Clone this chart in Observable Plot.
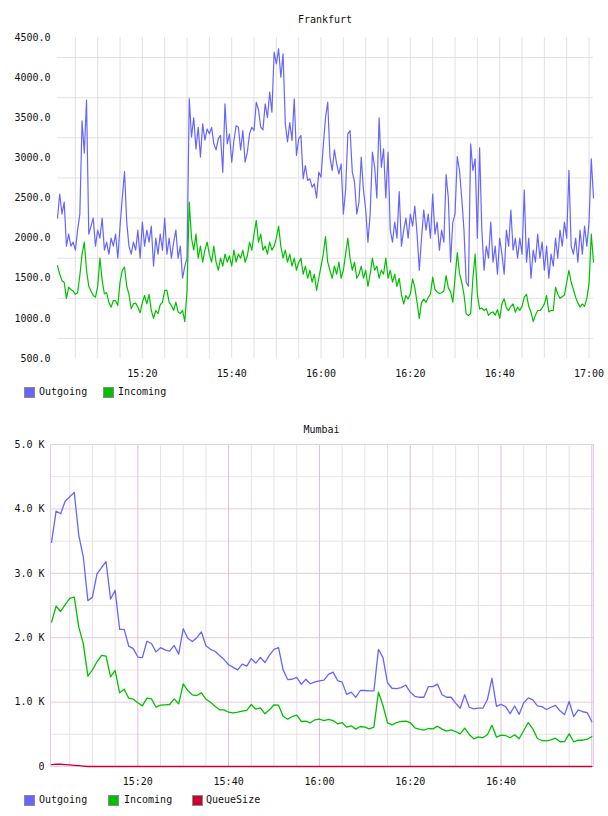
<!DOCTYPE html>
<html><head><meta charset="utf-8">
<script src="https://cdn.jsdelivr.net/npm/d3@7"></script>
<script src="https://cdn.jsdelivr.net/npm/@observablehq/plot@0.6"></script>
<style>
body{margin:0;background:#fff;font-family:"DejaVu Sans Mono",monospace;color:#111;}
#wrap{position:relative;width:608px;height:816px;overflow:hidden;}
#wrap svg{position:absolute;left:0;}
.title{position:absolute;font-size:10px;line-height:12px;text-align:center;}
.leg{position:absolute;font-size:10px;line-height:12px;white-space:nowrap;}
.sw{position:absolute;width:9px;height:9px;border:1px solid #8a8a8a;}
</style>
</head><body>
<div id="wrap"></div>
<script>
// ---------------- data ----------------
// Frankfurt: samples every 30 s starting 15:01
const fraStart = "15:01";
const fraStepSec = 30;
const fraOutgoing = [
2250,2550,2300,2450,1900,2050,1900,1950,1850,2100,
2300,3460,3060,3720,2050,2150,2250,1900,2100,2000,
2250,1850,1950,1800,2000,1900,2050,1750,2150,2500,
2830,2200,1900,1800,1950,1850,2100,1750,2200,1900,
2100,1950,2150,1650,2000,1800,2050,1850,2250,1800,
2000,1750,1950,2100,1750,1900,1500,1650,1750,3740,
3260,3500,3110,3380,3010,3425,3220,3360,3300,3380,
3175,3100,3240,3280,2820,3674,3175,3300,2946,3217,
3400,3382,3100,3341,2946,3071,3300,3382,3341,3694,
3600,3382,3350,3674,3500,3819,3570,4317,4172,4359,
4005,4296,3425,3200,3440,3217,3736,3030,3238,3279,
2739,2905,2718,2739,2635,2677,2500,2822,2760,3150,
3500,3694,3009,2843,3100,2926,2801,2926,2300,2600,
3300,3341,2822,2697,2300,2450,3009,2600,2350,1950,
2300,3071,2884,2500,3499,2884,3113,2500,3071,2100,
1950,2200,2000,2580,1900,2100,2250,2000,2300,2150,
2400,2050,1600,2000,2350,2100,2300,2000,2550,2050,
2200,1850,2100,1950,2793,2500,1700,2200,2300,3017,
2843,2500,2100,1450,1400,3175,2843,2988,2000,3125,
2100,1600,1900,1750,2200,1700,1900,1550,2000,1800,
1550,2100,1900,2350,1850,2000,1750,2000,1800,2600,
1700,2000,1500,1850,1700,2050,1750,1950,1600,1900,
1500,1800,1650,2000,1750,2100,1900,2200,2000,2843,
1900,1800,2000,1700,2100,1800,2150,1900,2200,2988,
2500];
const fraIncoming = [
1657,1550,1470,1450,1250,1390,1356,1340,1300,1320,
1534,1800,1950,1600,1400,1340,1285,1264,1400,1750,
1472,1306,1320,1200,1140,1223,1220,1160,1450,1597,
1640,1400,1300,1120,1180,1190,1140,1070,1200,1285,
1181,1300,1100,1000,1098,1060,1170,1200,1348,1350,
1200,1160,1100,1202,1080,1060,1100,960,1348,2450,
2000,1850,2050,1750,1900,1700,1850,1950,1800,1700,
1900,1700,1600,1750,1650,1800,1700,1780,1650,1850,
1700,1800,1750,1850,1700,1780,1950,1850,2050,2220,
1950,2050,1850,1900,1800,1950,1850,1900,2000,2150,
1900,1750,1850,1700,1800,1650,1750,1600,1700,1750,
1550,1650,1500,1600,1450,1550,1350,1500,1650,1800,
2020,1700,1600,1500,1650,1550,1700,1500,1600,1800,
2000,1750,1600,1700,1500,1550,1650,1500,1600,1400,
1550,1750,1600,1650,1500,1600,1550,1750,1500,1600,
1450,1550,1400,1500,1300,1181,1285,1244,1306,1493,
1380,1200,1000,1200,1240,1200,1260,1306,1513,1360,
1330,1310,1320,1340,1534,1380,1330,1202,1500,1820,
1560,1450,1300,1056,1036,1060,1500,1800,1300,1119,
1130,1098,1120,1036,1070,1080,1040,1110,1000,1181,
1244,1130,1098,1150,1180,1077,1140,1100,1150,1264,
1300,1150,1077,960,1040,1098,1098,1130,1181,1285,
1080,1098,1100,1389,1300,1250,1270,1290,1450,1597,
1450,1360,1264,1190,1140,1180,1150,1250,1431,2050,
1700];
const fraXTicks = ["15:20","15:40","16:00","16:20","16:40","17:00"];
const fraYTicks = [500,1000,1500,2000,2500,3000,3500,4000,4500];
const fraYGrid = [750,1250,1750,2250,2750,3250,3750,4250];

// Mumbai: samples every minute starting 15:01
const mumStart = "15:01";
const mumStepSec = 60;
const mumOutgoing = [
3480,3965,3925,4120,4190,4255,3590,3250,2575,2630,
2990,3090,3180,2600,2735,2130,2130,1870,1830,1700,
1690,1945,1910,1780,1845,1810,1790,1880,1745,2140,
1990,1940,2000,2090,1875,1820,1790,1725,1660,1580,
1540,1500,1590,1560,1675,1605,1695,1615,1730,1820,
1845,1500,1350,1355,1385,1275,1355,1285,1315,1330,
1340,1430,1465,1335,1310,1120,1155,1075,1180,1180,
1175,1175,1820,1690,1300,1215,1210,1225,1265,1155,
1090,1075,1075,1240,1240,1280,1115,1075,1075,985,
905,1115,920,895,905,905,1040,1370,935,965,
930,820,940,810,990,1065,1035,940,930,885,
920,950,865,805,1010,775,880,850,835,695];
const mumIncoming = [
2241,2489,2407,2515,2610,2630,2163,1905,1402,1501,
1626,1724,1713,1393,1491,1144,1200,1061,1045,989,
942,1061,1051,921,952,958,963,1051,973,1284,
1180,1113,1102,1144,1045,998,936,880,880,843,
833,843,859,870,963,890,911,818,880,958,
952,781,734,776,797,699,703,679,725,735,
714,730,714,663,683,611,632,580,621,611,
585,611,1154,947,678,647,683,699,704,683,
601,580,564,590,585,626,580,548,570,543,
507,595,497,430,461,446,492,642,455,486,
481,446,492,430,559,683,585,435,404,399,
415,440,384,388,507,384,408,408,424,466];
const mumQueueSize = [
30,35,35,30,25,18,12,6,0,0,
0,0,0,0,0,0,0,0,0,0,
0,0,0,0,0,0,0,0,0,0,
0,0,0,0,0,0,0,0,0,0,
0,0,0,0,0,0,0,0,0,0,
0,0,0,0,0,0,0,0,0,0,
0,0,0,0,0,0,0,0,0,0,
0,0,0,0,0,0,0,0,0,0,
0,0,0,0,0,0,0,0,0,0,
0,0,0,0,0,0,0,0,0,0,
0,0,0,0,0,0,0,0,0,0,
0,0,0,0,0,0,0,0,0,0];
const mumXTicks = ["15:20","15:40","16:00","16:20","16:40"];
const mumYTicks = [0,1000,2000,3000,4000,5000];
const mumYMajorGrid = [1000,2000,3000,4000];
const mumYMinorGrid = [500,1500,2500,3500,4500];

// ---------------- helpers ----------------
const T = s => new Date(`2020-01-01T${s.length === 5 ? s + ":00" : s}Z`);
const series = (start, step, vals) => vals.map((v, i) => ({t: new Date(+T(start) + i * step * 1000), v}));
const fmtHM = d3.utcFormat("%H:%M");
const COL = {out: "#6666ff", inc: "#00c000", q: "#cc0033"};
const font = {fontFamily: "DejaVu Sans Mono, monospace", fontSize: "10px", color: "#111", background: "transparent", overflow: "visible"};

const wrap = document.getElementById("wrap");

// ---------------- Frankfurt ----------------
const fraGridX = d3.utcMinute.every(5).range(T("15:05"), T("17:00:30"));
const fra = Plot.plot({
  width: 608, height: 385,
  marginTop: 37, marginBottom: 27, marginLeft: 57, marginRight: 15,
  style: font,
  x: {type: "utc", domain: [T("15:01"), T("17:01")], label: null},
  y: {domain: [500, 4500], label: null},
  marks: [
    Plot.ruleY(fraYGrid, {stroke: "#e2e2e2"}),
    Plot.ruleX(fraGridX, {stroke: "#e2e2e2"}),
    Plot.line(series(fraStart, fraStepSec, fraOutgoing), {x: "t", y: "v", stroke: COL.out, strokeWidth: 1.2}),
    Plot.line(series(fraStart, fraStepSec, fraIncoming), {x: "t", y: "v", stroke: COL.inc, strokeWidth: 1.2}),
    Plot.axisY(fraYTicks, {tickSize: 0, tickPadding: 7, tickFormat: d => d.toFixed(1), label: null}),
    Plot.axisX(fraXTicks.map(T), {tickSize: 0, tickPadding: 11, tickFormat: fmtHM, label: null})
  ]
});
fra.style.top = "0px";
wrap.appendChild(fra);

// ---------------- Mumbai ----------------
const allFive = d3.utcMinute.every(5).range(T("15:05"), T("17:00:30"));
const mumMajorX = allFive.filter(d => d.getUTCMinutes() % 20 === 0);
const mumMinorX = allFive.filter(d => d.getUTCMinutes() % 20 !== 0);
const mum = Plot.plot({
  width: 608, height: 380,
  marginTop: 34, marginBottom: 24, marginLeft: 50, marginRight: 15,
  style: font,
  x: {type: "utc", domain: [T("15:00:46"), T("17:00:22")], label: null},
  y: {domain: [0, 5000], label: null},
  marks: [
    Plot.ruleY(mumYMinorGrid, {stroke: "#e6e6e6"}),
    Plot.ruleX(mumMinorX, {stroke: "#e9e0e9"}),
    Plot.ruleY(mumYMajorGrid, {stroke: "#e6c8e6"}),
    Plot.ruleX(mumMajorX, {stroke: "#dcbedc"}),
    Plot.frame({stroke: "#e8cce8"}),
    Plot.line(series(mumStart, mumStepSec, mumOutgoing), {x: "t", y: "v", stroke: COL.out, strokeWidth: 1.3}),
    Plot.line(series(mumStart, mumStepSec, mumIncoming), {x: "t", y: "v", stroke: COL.inc, strokeWidth: 1.3}),
    Plot.line(series(mumStart, mumStepSec, mumQueueSize), {x: "t", y: "v", stroke: COL.q, strokeWidth: 1.3}),
    Plot.axisY(mumYTicks, {tickSize: 0, tickPadding: 6, tickFormat: d => d === 0 ? "0" : (d / 1000).toFixed(1) + " K", label: null}),
    Plot.axisX(mumXTicks.map(T), {tickSize: 0, tickPadding: 11, tickFormat: fmtHM, label: null})
  ]
});
mum.style.top = "410px";
wrap.appendChild(mum);

// ---------------- titles & legends ----------------
function addTitle(text, left, width, top) {
  const d = document.createElement("div");
  d.className = "title"; d.textContent = text;
  Object.assign(d.style, {left: left + "px", width: width + "px", top: top + "px"});
  wrap.appendChild(d);
}
function addLegend(items, top) {
  items.forEach(([label, color, x, tx]) => {
    const s = document.createElement("div");
    s.className = "sw";
    Object.assign(s.style, {left: x + "px", top: top + "px", background: color});
    wrap.appendChild(s);
    const t = document.createElement("div");
    t.className = "leg"; t.textContent = label;
    Object.assign(t.style, {left: tx + "px", top: (top - 1) + "px"});
    wrap.appendChild(t);
  });
}
addTitle("Frankfurt", 57, 536, 14);
addTitle("Mumbai", 50, 543, 424);
addLegend([["Outgoing", COL.out, 24, 39], ["Incoming", COL.inc, 103, 118]], 387);
addLegend([["Outgoing", COL.out, 24, 39], ["Incoming", COL.inc, 108, 124], ["QueueSize", COL.q, 192, 206]], 795);
</script>
</body></html>
